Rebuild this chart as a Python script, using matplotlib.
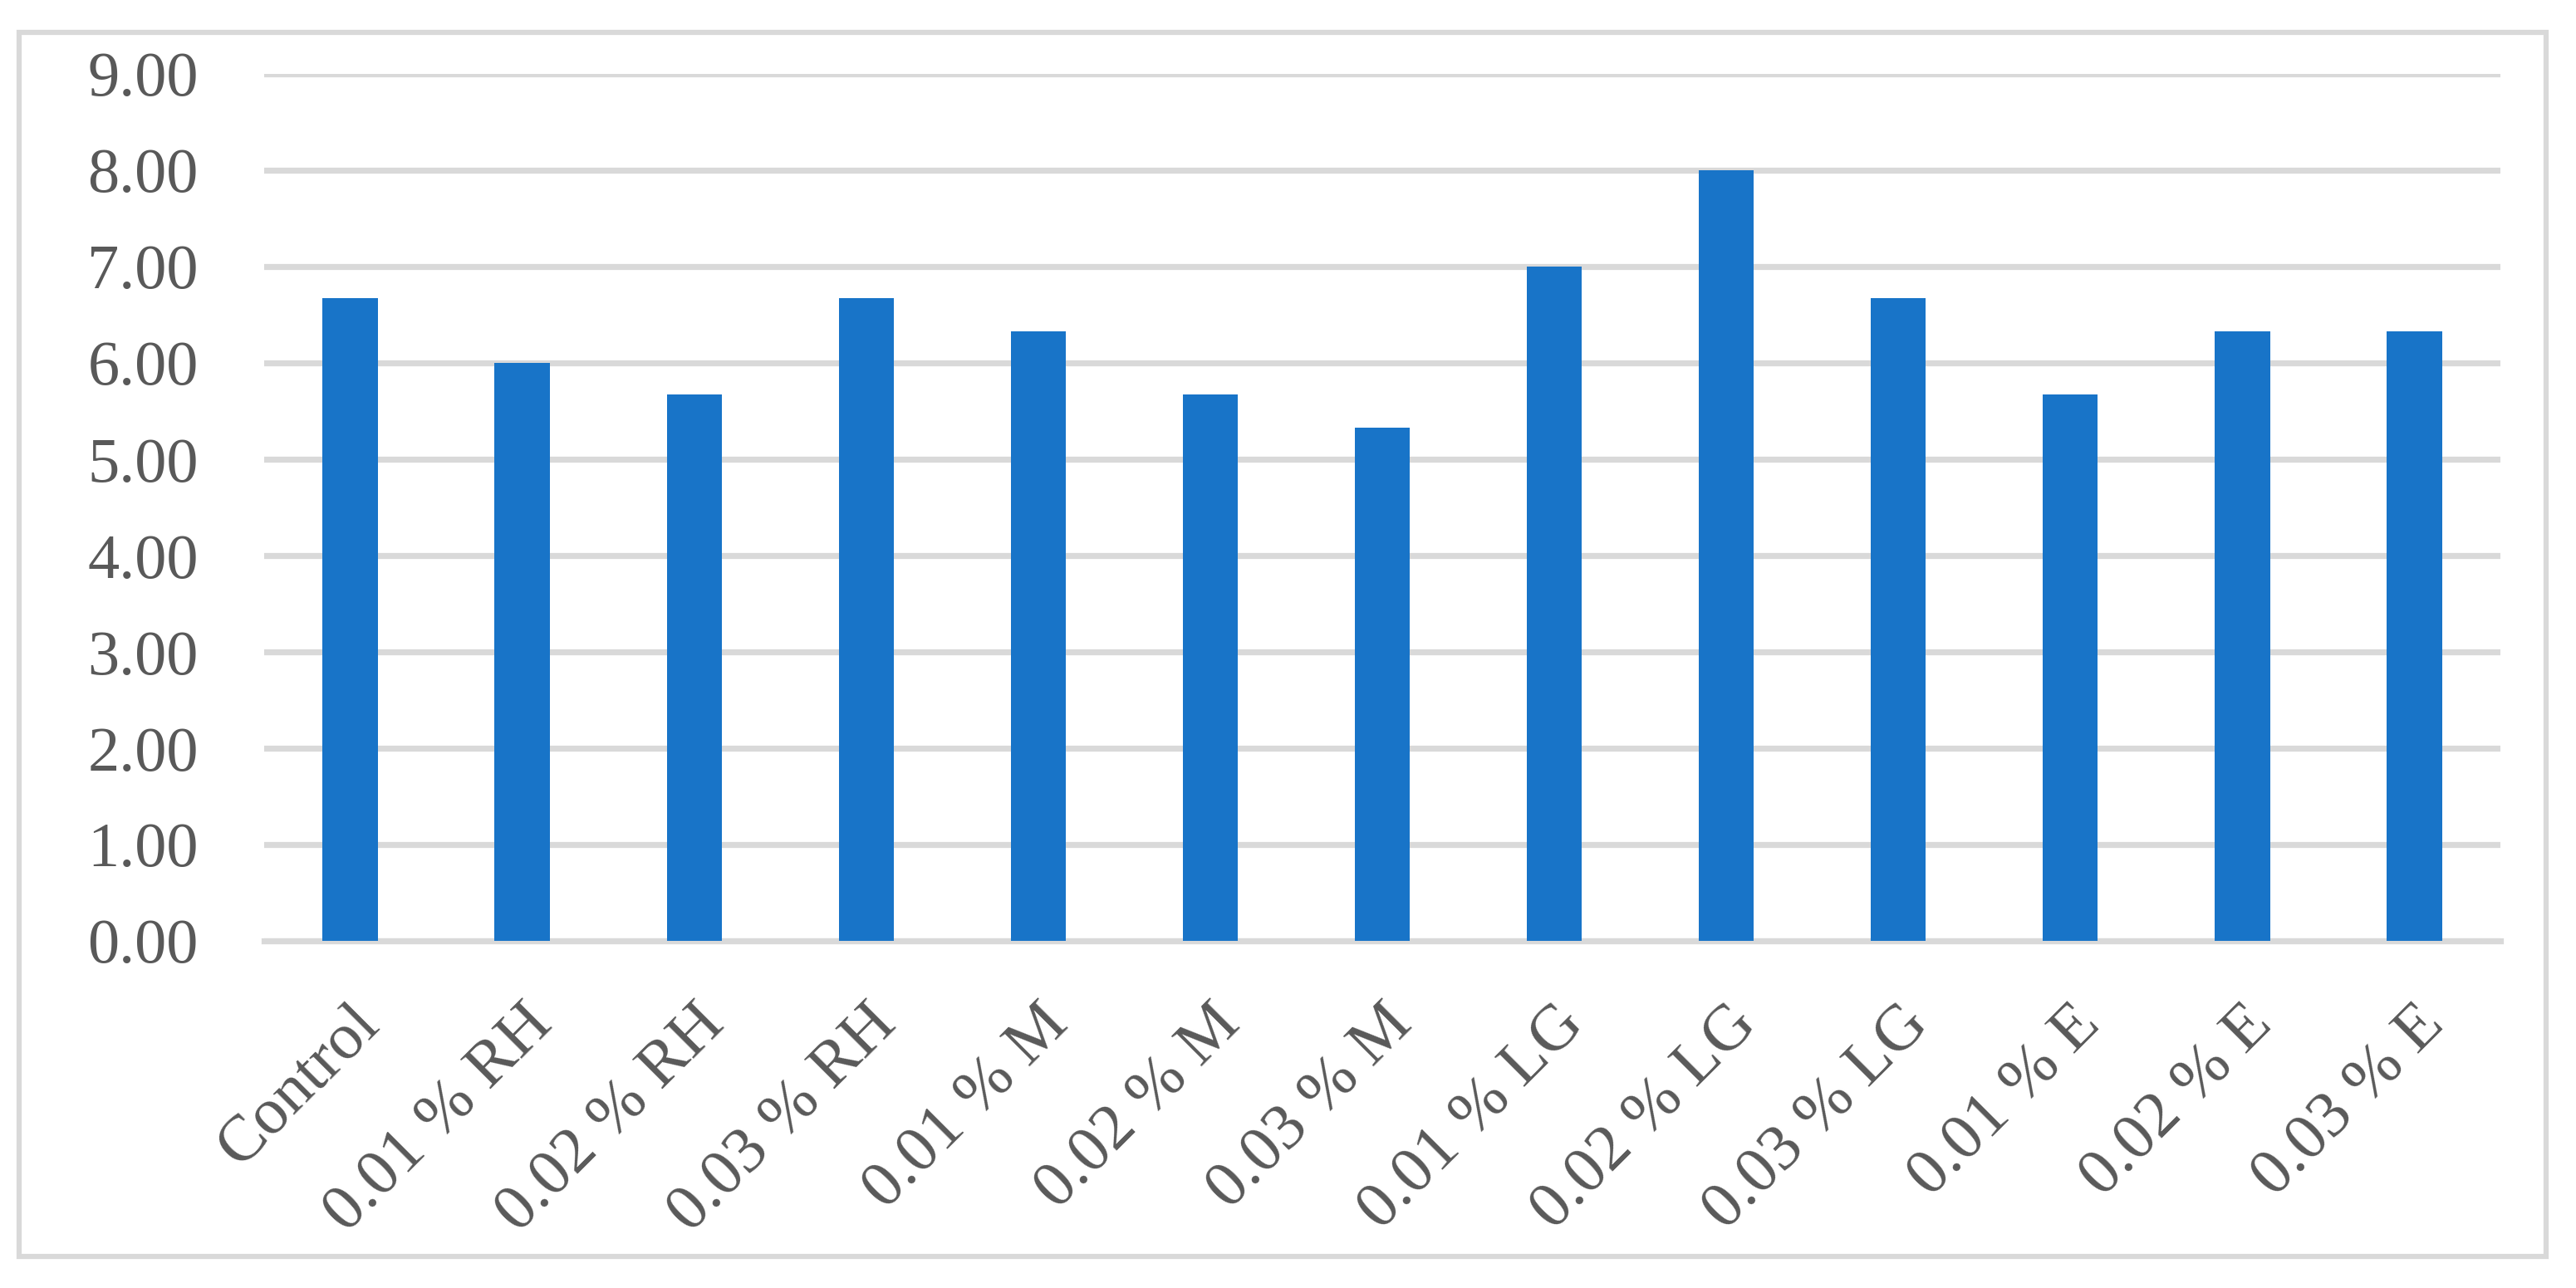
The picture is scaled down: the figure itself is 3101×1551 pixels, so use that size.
import matplotlib
matplotlib.use("Agg")
import matplotlib.pyplot as plt
import matplotlib.transforms as mtransforms
from matplotlib.patches import Rectangle
import numpy as np

# data
categories = ["Control", "0.01 % RH", "0.02 % RH", "0.03 % RH",
              "0.01 % M", "0.02 % M", "0.03 % M",
              "0.01 % LG", "0.02 % LG", "0.03 % LG",
              "0.01 % E", "0.02 % E", "0.03 % E"]
values = [6.67, 6.00, 5.67, 6.67, 6.33, 5.67, 5.33, 7.00, 8.00, 6.67, 5.67, 6.33, 6.33]
yticks = [0, 1, 2, 3, 4, 5, 6, 7, 8, 9]

bar_color = "#1874C8"
grid_color = "#D9D9D9"
text_color = "#595959"

plt.rcParams["font.family"] = ["Liberation Serif", "DejaVu Serif"]

fig = plt.figure(figsize=(31.01, 15.51), dpi=100)
ax = fig.add_axes([318 / 3101, 1 - 1133 / 1551, (3010 - 318) / 3101, (1133 - 89) / 1551])

xpos = np.arange(len(categories))
ax.bar(xpos, values, width=0.32, color=bar_color, zorder=3)

ax.set_xlim(-0.5, len(categories) - 0.5)
ax.set_ylim(0, 9)
ax.set_yticks(yticks)
ax.set_yticklabels(["%.2f" % v for v in yticks])
ax.yaxis.grid(True, color=grid_color, linewidth=5.2, zorder=0)
ax.set_axisbelow(True)

for s in ["top", "right", "left"]:
    ax.spines[s].set_visible(False)
ax.spines["bottom"].set_color(grid_color)
ax.spines["bottom"].set_linewidth(5.2)
ax.spines["bottom"].set_zorder(2)

ax.tick_params(axis="y", length=0, pad=57, labelsize=55, labelcolor=text_color)
ax.tick_params(axis="x", length=0, pad=46, labelsize=57, labelcolor=text_color)
ax.set_xticks(xpos)
ax.set_xticklabels(categories, rotation=45, ha="right", va="top")

shift = mtransforms.ScaledTranslation(0.50, 0, fig.dpi_scale_trans)
for lbl in ax.get_xticklabels():
    lbl.set_transform(lbl.get_transform() + shift)

# outer chart border
frame = Rectangle((23 / 3101, 1 - 1513 / 1551), (3065 - 23) / 3101, (1513 - 39) / 1551,
                  transform=fig.transFigure, fill=False, edgecolor=grid_color, linewidth=4.5)
fig.patches.append(frame)

fig.savefig("out.png", dpi=100, facecolor="white")
